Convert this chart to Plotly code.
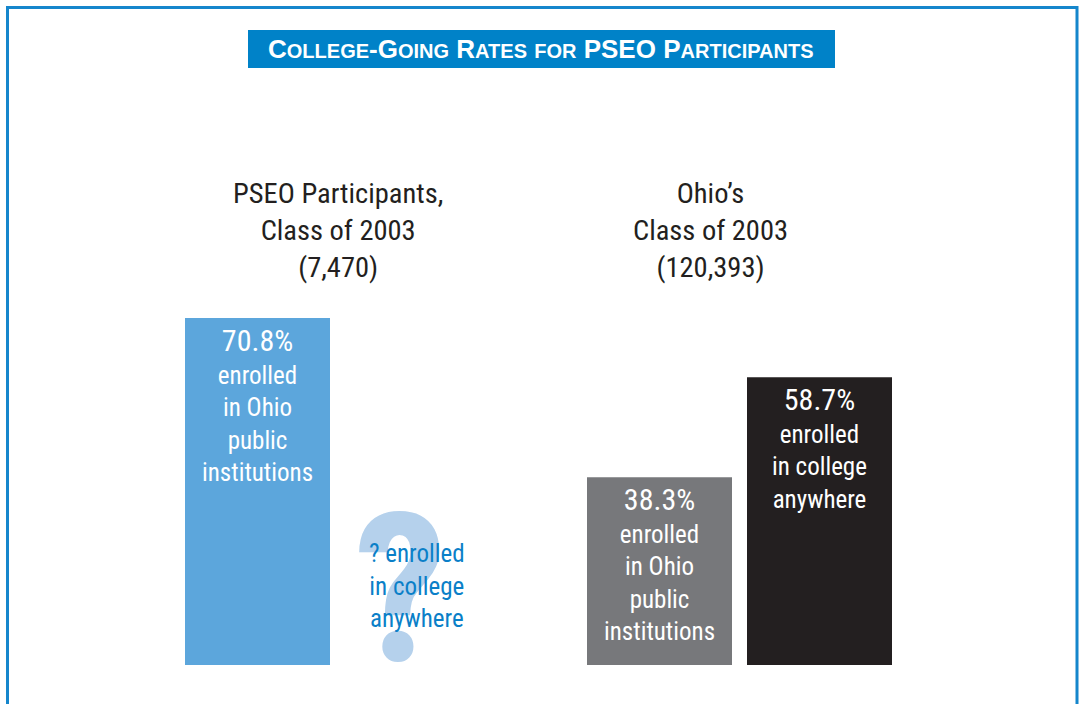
import plotly.graph_objects as go

W, H = 1079, 704

# ---- data ----
group_titles = ["PSEO Participants,<br>Class of 2003<br>(7,470)",
                "Ohio’s<br>Class of 2003<br>(120,393)"]
bar_values = [70.8, 38.3, 58.7]
bar_pcts = ["70.8%", "38.3%", "58.7%"]
bar_captions = ["enrolled<br>in Ohio<br>public<br>institutions",
                "enrolled<br>in Ohio<br>public<br>institutions",
                "enrolled<br>in college<br>anywhere"]
unknown_caption = "? enrolled<br>in college<br>anywhere"
title_text = "College-Going Rates for PSEO Participants"

# ---- layout constants ----
bar_x = [257.5, 659.5, 819.5]          # bar centres (x axis in pixel units)
unknown_x = 400
group_x = [338, 710]
bar_colors = ["#5ca6dc", "#77787b", "#231f20"]
BAR_W = 145
PX_PER_PCT = 4.9
BASE_PX = 665                            # pixel row of the zero line
FONT = "Liberation Sans Narrow, Roboto Condensed, Arial Narrow, Liberation Sans, sans-serif"

y_min = -(H - BASE_PX) / PX_PER_PCT
y_max = y_min + H / PX_PER_PCT


def py(p):
    """pixel row -> paper y"""
    return 1 - p / H


def px(p):
    return p / W


def small_caps(s, big, small):
    """Render lowercase letters as reduced-size capitals."""
    out = []
    for ch in s:
        if ch.islower():
            out.append(f"<span style='font-size:{small}px'>{ch.upper()}</span>")
        else:
            out.append(f"<span style='font-size:{big}px'>{ch}</span>")
    return "".join(out)


fig = go.Figure()
fig.add_trace(go.Bar(
    x=bar_x, y=bar_values, width=BAR_W,
    marker=dict(color=bar_colors, line=dict(width=0)),
    hoverinfo="skip",
))

annotations = []
# large question mark standing in for the unknown bar
annotations.append(dict(
    x=unknown_x, y=0, xref="x", yref="y", text="<b>?</b>", showarrow=False,
    yanchor="bottom", xanchor="center", yshift=-49,
    font=dict(family=FONT, size=208, color="#b5d1ec"),
))
annotations.append(dict(
    x=unknown_x + 17, y=py(537), xref="x", yref="paper", text=unknown_caption,
    showarrow=False, yanchor="top", xanchor="center",
    font=dict(family=FONT, size=25, color="#0a7fc8"),
))

for xv, v, pct, cap in zip(bar_x, bar_values, bar_pcts, bar_captions):
    annotations.append(dict(
        x=xv, y=v, xref="x", yref="y",
        text=f"<span style='font-size:30px'>{pct}</span><br>{cap}",
        showarrow=False, yanchor="top", xanchor="center", yshift=-3,
        font=dict(family=FONT, size=25, color="white"),
    ))

for gx, gt in zip(group_x, group_titles):
    annotations.append(dict(
        x=gx, y=py(175), xref="paper" if False else "x", yref="paper", text=gt,
        showarrow=False, yanchor="top", xanchor="center",
        font=dict(family=FONT, size=28.5, color="#231f20"),
    ))

annotations.append(dict(
    x=px(541), y=py(49), xref="paper", yref="paper",
    text="<b>" + small_caps(title_text, 26, 20) + "</b>",
    showarrow=False, xanchor="center", yanchor="middle",
    font=dict(family="Liberation Sans, Arial, sans-serif", color="white"),
))

shapes = [
    dict(type="rect", xref="paper", yref="paper",
         x0=px(248), x1=px(835), y0=py(68), y1=py(30),
         fillcolor="#0082c8", line=dict(width=0), layer="below"),
    dict(type="rect", xref="paper", yref="paper",
         x0=px(7.5), x1=px(1077), y0=py(720), y1=py(7.5),
         fillcolor="rgba(0,0,0,0)", line=dict(color="#1586cc", width=3)),
]

fig.update_layout(
    width=W, height=H,
    margin=dict(l=0, r=0, t=0, b=0),
    paper_bgcolor="white", plot_bgcolor="white",
    showlegend=False,
    xaxis=dict(range=[0, W], visible=False, fixedrange=True),
    yaxis=dict(range=[y_min, y_max], visible=False, fixedrange=True),
    annotations=annotations, shapes=shapes,
)

fig.write_html("out.html")
